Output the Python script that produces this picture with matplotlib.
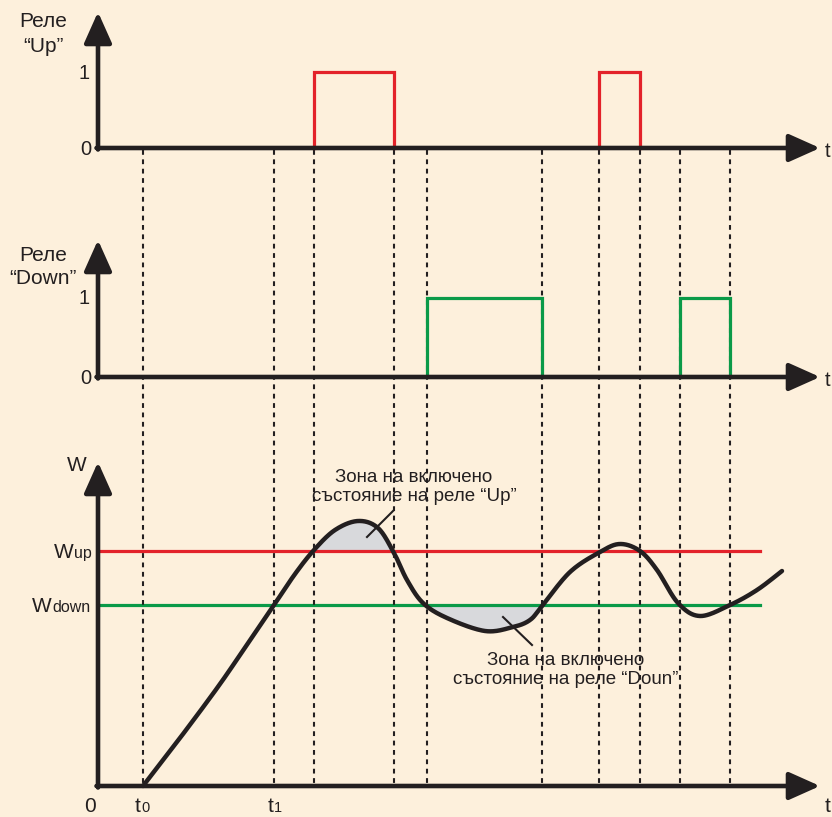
import matplotlib
matplotlib.use("Agg")
import matplotlib.pyplot as plt
import numpy as np

plt.rcParams['font.family'] = ['Liberation Sans', 'DejaVu Sans']

# positions are in picture pixels (x right, y down)
t_marks = [143, 274, 314, 394, 427, 542, 599, 640, 680, 730]
up_pulses = [(314, 394), (599, 640)]
down_pulses = [(427, 542), (680, 730)]

# W(t) curve
curve_x = [143, 180, 220, 250, 274, 295, 314, 335, 358, 378, 394, 407, 423, 447, 485,
           513, 530, 542, 570, 600, 620, 640, 657, 678, 700, 730, 757, 782]
curve_y = [786, 738, 684, 640, 605, 574, 550, 530, 521, 528, 553, 580, 603, 618, 631,
           627, 620, 606, 572, 552, 544, 551, 570, 603, 616, 605, 590, 571]

w_up = 551
w_down = 605

BG = '#fdf0dc'
INK = '#231f20'
RED = '#e3222a'
GREEN = '#0a9a48'
GRAY = '#d8d9dc'


def smooth(xs, ys, n=24):
    # catmull-rom through the read points
    p = np.column_stack([xs, ys]).astype(float)
    p = np.vstack([p[0], p, p[-1]])
    out = []
    for i in range(1, len(p) - 2):
        p0, p1, p2, p3 = p[i - 1], p[i], p[i + 1], p[i + 2]
        t = np.linspace(0, 1, n, endpoint=False)[:, None]
        out.append(0.5 * ((2 * p1) + (-p0 + p2) * t + (2 * p0 - 5 * p1 + 4 * p2 - p3) * t ** 2
                          + (-p0 + 3 * p1 - 3 * p2 + p3) * t ** 3))
    out.append(p[-2][None, :])
    out = np.vstack(out)
    return out[:, 0], out[:, 1]


fig = plt.figure(figsize=(8.32, 8.17), dpi=100, facecolor=BG)
ax = fig.add_axes([0, 0, 1, 1])
ax.set_xlim(0, 832)
ax.set_ylim(817, 0)
ax.axis('off')
ax.set_facecolor(BG)


def arrow(x0, y0, x1, y1):
    ax.annotate('', xy=(x1, y1), xytext=(x0, y0),
                arrowprops=dict(arrowstyle='-|>,head_length=1.9,head_width=0.85',
                                mutation_scale=10, lw=3.3, color=INK,
                                shrinkA=0, shrinkB=0), zorder=6)


# panels: (baseline y, level-1 y, axis top)
panels = [(148, 72, 12), (377, 298, 240)]
x0 = 98
x_end = 820

# dashed verticals
for x in t_marks:
    ax.plot([x, x], [150, 786], color=INK, lw=1.5, dashes=(2.3, 2.2), zorder=3)

# relay pulses
for (base, one, top), pulses, col in zip(panels, [up_pulses, down_pulses], [RED, GREEN]):
    for a, b in pulses:
        ax.plot([a, a, b, b], [base, one, one, base], color=col, lw=2.3,
                solid_joinstyle='miter', zorder=4)
    arrow(x0, base + 1.5, x0, top)
    arrow(x0 - 1.5, base, x_end, base)
    ax.text(90, one + 1, '1', ha='right', va='center', fontsize=14.5, color=INK)
    ax.text(91, base + 1, '0', ha='right', va='center', fontsize=14.5, color=INK)
    ax.text(825, base + 3, 't', ha='left', va='center', fontsize=14.5, color=INK)

ax.text(43, 21, 'Реле', ha='center', va='center', fontsize=15, color=INK)
ax.text(43, 46, '“Up”', ha='center', va='center', fontsize=15, color=INK)
ax.text(43, 255, 'Реле', ha='center', va='center', fontsize=15, color=INK)
ax.text(43, 279, '“Down”', ha='center', va='center', fontsize=15, color=INK)

# bottom panel
cx, cy = smooth(curve_x, curve_y)
ax.fill_between(cx, cy, w_up, where=(cx >= 300) & (cx <= 400) & (cy <= w_up),
                interpolate=True, color=GRAY, lw=0, zorder=1)
ax.fill_between(cx, cy, w_down, where=(cx >= 420) & (cx <= 550) & (cy >= w_down),
                interpolate=True, color=GRAY, lw=0, zorder=1)
ax.plot([x0, 760], [w_up, w_up], color=RED, lw=2.3, zorder=2)
ax.plot([x0, 760], [w_down, w_down], color=GREEN, lw=2.3, zorder=2)
ax.plot(cx, cy, color=INK, lw=3.2, solid_capstyle='round', zorder=5)

arrow(x0, 787.5, x0, 462)
arrow(x0 - 1.5, 786, x_end, 786)

ax.text(77, 465, 'W', ha='center', va='center', fontsize=15, color=INK)
ax.text(54, w_up + 7, 'W', ha='left', va='baseline', fontsize=15, color=INK)
ax.text(74, w_up + 7, 'up', ha='left', va='baseline', fontsize=11.5, color=INK)
ax.text(32, w_down + 7, 'W', ha='left', va='baseline', fontsize=15, color=INK)
ax.text(52, w_down + 7, 'down', ha='left', va='baseline', fontsize=11.5, color=INK)

ax.text(90, 806, '0', ha='center', va='center', fontsize=15, color=INK)
ax.text(135, 812, 't', ha='left', va='baseline', fontsize=15, color=INK)
ax.text(141, 812, '0', ha='left', va='baseline', fontsize=10.5, color=INK)
ax.text(268, 812, 't', ha='left', va='baseline', fontsize=15, color=INK)
ax.text(274, 812, '1', ha='left', va='baseline', fontsize=10.5, color=INK)
ax.text(825, 806, 't', ha='left', va='center', fontsize=15, color=INK)

# zone labels
ax.text(414, 487, 'Зона на включено\nсъстояние на реле “Up”', ha='center', va='center',
        fontsize=13.5, color=INK, linespacing=1.2, zorder=7)
ax.plot([393, 367], [511, 537], color=INK, lw=1.5, zorder=6)
ax.text(566, 670, 'Зона на включено\nсъстояние на реле “Doun”', ha='center', va='center',
        fontsize=13.5, color=INK, linespacing=1.2, zorder=7)
ax.plot([503, 532], [617, 645], color=INK, lw=1.5, zorder=6)

fig.savefig('out.png', dpi=100, facecolor=BG)
